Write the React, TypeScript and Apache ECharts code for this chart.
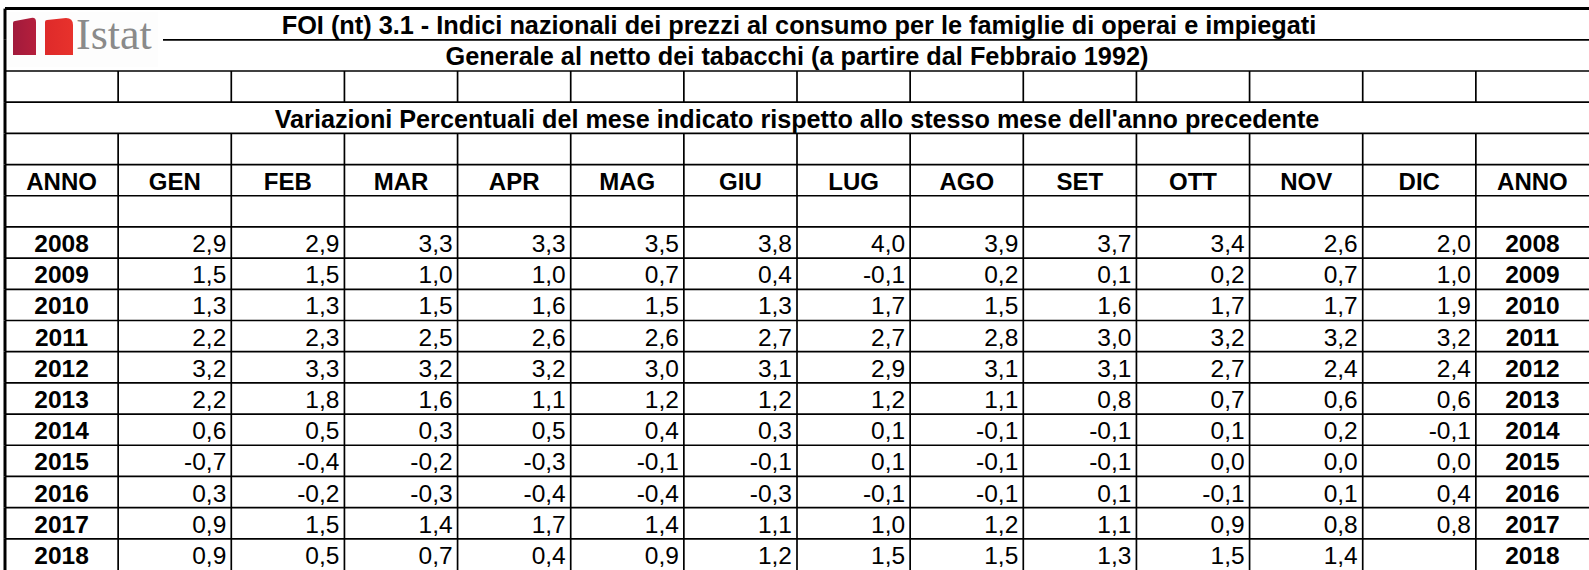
import React, { useEffect, useRef } from "react";
import * as echarts from "echarts";

// ---------- DATA ----------
const columnHeaders = ["ANNO", "GEN", "FEB", "MAR", "APR", "MAG", "GIU", "LUG", "AGO", "SET", "OTT", "NOV", "DIC", "ANNO"];
const years = ["2008", "2009", "2010", "2011", "2012", "2013", "2014", "2015", "2016", "2017", "2018"];
const values2008 = [2.9, 2.9, 3.3, 3.3, 3.5, 3.8, 4.0, 3.9, 3.7, 3.4, 2.6, 2.0];
const values2009 = [1.5, 1.5, 1.0, 1.0, 0.7, 0.4, -0.1, 0.2, 0.1, 0.2, 0.7, 1.0];
const values2010 = [1.3, 1.3, 1.5, 1.6, 1.5, 1.3, 1.7, 1.5, 1.6, 1.7, 1.7, 1.9];
const values2011 = [2.2, 2.3, 2.5, 2.6, 2.6, 2.7, 2.7, 2.8, 3.0, 3.2, 3.2, 3.2];
const values2012 = [3.2, 3.3, 3.2, 3.2, 3.0, 3.1, 2.9, 3.1, 3.1, 2.7, 2.4, 2.4];
const values2013 = [2.2, 1.8, 1.6, 1.1, 1.2, 1.2, 1.2, 1.1, 0.8, 0.7, 0.6, 0.6];
const values2014 = [0.6, 0.5, 0.3, 0.5, 0.4, 0.3, 0.1, -0.1, -0.1, 0.1, 0.2, -0.1];
const values2015 = [-0.7, -0.4, -0.2, -0.3, -0.1, -0.1, 0.1, -0.1, -0.1, 0.0, 0.0, 0.0];
const values2016 = [0.3, -0.2, -0.3, -0.4, -0.4, -0.3, -0.1, -0.1, 0.1, -0.1, 0.1, 0.4];
const values2017 = [0.9, 1.5, 1.4, 1.7, 1.4, 1.1, 1.0, 1.2, 1.1, 0.9, 0.8, 0.8];
const values2018 = [0.9, 0.5, 0.7, 0.4, 0.9, 1.2, 1.5, 1.5, 1.3, 1.5, 1.4, null];
const yearValues = [values2008, values2009, values2010, values2011, values2012, values2013, values2014, values2015, values2016, values2017, values2018];

const titleLine1 = "FOI (nt) 3.1 - Indici nazionali dei prezzi al consumo per le famiglie di operai e impiegati";
const titleLine2 = "Generale al netto dei tabacchi (a partire dal Febbraio 1992)";
const subtitle = "Variazioni Percentuali del mese indicato rispetto allo stesso mese dell'anno precedente";

type RowKind = "title1" | "title2" | "blank" | "subtitle" | "header" | "data";
const rowKinds: RowKind[] = ["title1", "title2", "blank", "subtitle", "blank", "header", "blank", ...years.map(() => "data" as RowKind)];
const rowKeys = ["t1", "t2", "g1", "sub", "g2", "head", "g3", ...years];
const DATA_START = 7;

const FONT = "'Liberation Sans', Arial, Helvetica, sans-serif";

function fmt(v: number | null): string {
  if (v === null || v === undefined) return "";
  return v.toFixed(1).replace(".", ",");
}

echarts.graphic.registerShape(
  "istatA",
  echarts.graphic.extendPath("M0,37 L0,5 Q0,3 2,3 L18,0 Q23,-1 23,4 L23,37 Z", {})
);
echarts.graphic.registerShape(
  "istatB",
  echarts.graphic.extendPath("M0,37 L0,4 Q0,2 2,2 L21,0 Q28,0 28,7 L28,37 Z", {})
);

export default function App() {
  const ref = useRef<HTMLDivElement>(null);

  useEffect(() => {
    if (!ref.current) return;
    const chart = echarts.init(ref.current, null, { renderer: "svg" });

    const renderItem = (params: any, api: any) => {
      const r = params.dataIndex;
      const kind = rowKinds[r];
      const cs = params.coordSys;
      const size = api.size([1, 1]);
      const w = size[0];
      const h = size[1];
      const c0 = api.coord([0, r]);
      const top = c0[1] - h / 2;
      const midY = c0[1];
      const left = cs.x;
      const right = cs.x + cs.width;
      const children: any[] = [];
      const thin = { stroke: "#000", lineWidth: 1.7 };

      // top rule of the row
      if (kind === "title1") {
        children.push({ type: "line", shape: { x1: left, y1: top, x2: right, y2: top }, style: { stroke: "#000", lineWidth: 3 } });
      } else if (kind === "title2") {
        children.push({ type: "line", shape: { x1: left + 158, y1: top, x2: right, y2: top }, style: thin });
      } else {
        children.push({ type: "line", shape: { x1: left, y1: top, x2: right, y2: top }, style: thin });
      }
      // left border
      children.push({ type: "line", shape: { x1: left, y1: top, x2: left, y2: top + h }, style: { stroke: "#000", lineWidth: 3 } });

      // vertical separators
      if (kind === "blank" || kind === "header" || kind === "data") {
        for (let i = 1; i < columnHeaders.length; i++) {
          const x = api.coord([i, r])[0] - w / 2;
          children.push({ type: "line", shape: { x1: x, y1: top, x2: x, y2: top + h }, style: thin });
        }
      }

      const centerX = left + cs.width / 2;
      const boldText = (text: string, x: number, size: number) => ({
        type: "text",
        x,
        y: midY + 1,
        style: { text, fill: "#000", fontSize: size, fontWeight: "bold", fontFamily: FONT, align: "center", verticalAlign: "middle" },
      });

      if (kind === "title1") children.push(boldText(titleLine1, centerX + 2, 25.3));
      if (kind === "title2") children.push(boldText(titleLine2, centerX, 25.3));
      if (kind === "subtitle") children.push(boldText(subtitle, centerX, 25.2));
      if (kind === "header") {
        columnHeaders.forEach((lab, i) => {
          children.push(boldText(lab, api.coord([i, r])[0], 24));
        });
      }
      if (kind === "data") {
        const yi = r - DATA_START;
        const yr = years[yi];
        children.push(boldText(yr, api.coord([0, r])[0], 24.5));
        children.push(boldText(yr, api.coord([columnHeaders.length - 1, r])[0], 24.5));
        yearValues[yi].forEach((v, m) => {
          const cx = api.coord([m + 1, r])[0];
          children.push({
            type: "text",
            x: cx + w / 2 - 5,
            y: midY + 1,
            style: { text: fmt(v), fill: "#000", fontSize: 24.5, fontFamily: FONT, align: "right", verticalAlign: "middle" },
          });
        });
      }
      return { type: "group", children };
    };

    chart.setOption({
      animation: false,
      backgroundColor: "#ffffff",
      grid: { left: 5, top: 8.6, width: 1588, height: 563.4 },
      xAxis: {
        type: "category",
        data: columnHeaders.map((hd, i) => hd + "_" + i),
        boundaryGap: true,
        show: false,
      },
      yAxis: {
        type: "category",
        data: rowKeys,
        inverse: true,
        boundaryGap: true,
        show: false,
      },
      graphic: [
        { type: "rect", left: 8, top: 12, shape: { width: 150, height: 55 }, style: { fill: "#fdfdfd" }, z: 10 },
        {
          type: "istatA",
          x: 13,
          y: 18,
          style: {
            fill: new echarts.graphic.LinearGradient(0, 0, 1, 0, [
              { offset: 0, color: "#a11a3c" },
              { offset: 1, color: "#b51f3c" },
            ]),
          },
          z: 11,
        },
        {
          type: "istatB",
          x: 45,
          y: 18,
          style: {
            fill: new echarts.graphic.LinearGradient(0, 0, 1, 0, [
              { offset: 0, color: "#de2a2a" },
              { offset: 1, color: "#e8322c" },
            ]),
          },
          z: 11,
        },
        {
          type: "text",
          x: 76,
          y: 56,
          style: {
            text: "Istat",
            fill: "#8a8a8a",
            fontSize: 44,
            fontFamily: "'Liberation Serif', 'Times New Roman', serif",
            align: "left",
            verticalAlign: "bottom",
          },
          z: 11,
        },
      ],
      series: [
        {
          type: "custom",
          renderItem,
          data: rowKinds.map((_, r) => [0, r]),
          clip: false,
          silent: true,
        },
      ],
    });

    return () => chart.dispose();
  }, []);

  return (
    <div
      ref={ref}
      style={{ position: "fixed", left: 0, top: 0, width: 1589, height: 570, background: "#fff" }}
    />
  );
}
